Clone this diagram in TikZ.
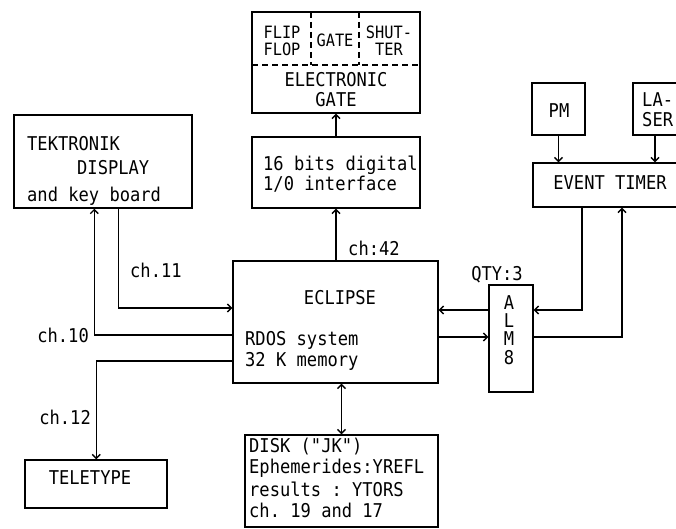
\documentclass[tikz,border=0pt]{standalone}
\usepackage{fontspec}
\setmonofont[FakeStretch=0.9]{DejaVu Sans Mono}
\usetikzlibrary{arrows.meta,calc}
\begin{document}
\begin{tikzpicture}[x=1pt,y=-1pt,
  box/.style={draw, line width=1.4pt, inner sep=0pt},
  txt/.style={font=\ttfamily\fontsize{19}{21}\selectfont, inner sep=0pt},
  stxt/.style={font=\ttfamily\fontsize{17}{19}\selectfont, inner sep=0pt},
  ln/.style={line width=1.4pt},
  arr/.style={line width=1.4pt, -{Straight Barb[length=4pt,width=8pt]}},
  darr/.style={line width=1.4pt, {Straight Barb[length=4pt,width=8pt]}-{Straight Barb[length=4pt,width=8pt]}}]
\useasboundingbox (0,0) rectangle (676,529);
\fill[white] (0,0) rectangle (676,529);

% electronic gate
\node[box, minimum width=168pt, minimum height=101pt] (gate) at (336,62.5) {};
\draw[ln, dash pattern=on 6pt off 4pt] (252,65) -- (420,65);
\draw[ln, dash pattern=on 6pt off 4pt] (311,12) -- (311,65);
\draw[ln, dash pattern=on 6pt off 4pt] (359,12) -- (359,65);
\node[stxt] (flip) at (282,32) {FLIP};
\node[stxt] (flop) at (282,49) {FLOP};
\node[stxt] (gtop) at (335,40) {GATE};
\node[stxt] (shut) at (389,32) {SHUT-};
\node[stxt] (ter) at (389,49) {TER};
\node[txt] (elec) at (336,80) {ELECTRONIC};
\node[txt] (egate) at (336,100) {GATE};

% I/O interface
\node[box, minimum width=168pt, minimum height=71pt] (io) at (336,172.5) {};
\node[txt, anchor=west] (io1) at (263,165) {16 bits digital};
\node[txt, anchor=west] (io2) at (263,184) {1/0 interface};

% Tektronik
\node[box, minimum width=178pt, minimum height=93pt] (tek) at (103,161.5) {};
\node[txt, anchor=west] (tek1) at (27,144) {TEKTRONIK};
\node[txt, anchor=west] (tek2) at (77,168) {DISPLAY};
\node[txt, anchor=west] (tek3) at (27,196) {and key board};

% Eclipse
\node[box, minimum width=205pt, minimum height=122pt] (ecl) at (335.5,322) {};
\node[txt] (ecl1) at (340,298) {ECLIPSE};
\node[txt, anchor=west] (ecl2) at (245,340) {RDOS system};
\node[txt, anchor=west] (ecl3) at (245,361) {32 K memory};

% Disk
\node[box, minimum width=193pt, minimum height=92pt] (disk) at (341.5,481) {};
\node[txt, anchor=west] (d1) at (249,447) {DISK ("JK")};
\node[txt, anchor=west] (d2) at (249,468) {Ephemerides:YREFL};
\node[txt, anchor=west] (d3) at (249,489) {results : YTORS};
\node[txt, anchor=west] (d4) at (249,510) {ch. 19 and 17};

% Teletype
\node[box, minimum width=142pt, minimum height=48pt] (tty) at (96,484) {};
\node[txt] (tty1) at (90,478) {TELETYPE};

% ALM
\node[box, minimum width=44pt, minimum height=107pt] (alm) at (511,338.5) {};
\node[txt] (a1) at (509,303) {A};
\node[txt] (a2) at (509,321) {L};
\node[txt] (a3) at (509,339) {M};
\node[txt] (a4) at (509,358) {8};
\node[txt] (qty) at (497,275) {QTY:3};

% Event timer, PM, laser
\node[box, minimum width=148pt, minimum height=44pt] (et) at (607,185) {};
\node[txt] (et1) at (610,183) {EVENT TIMER};
\node[box, minimum width=53pt, minimum height=52pt] (pm) at (558.5,109) {};
\node[txt] (pm1) at (559,111) {PM};
\node[box, minimum width=48pt, minimum height=52pt] (las) at (657,109) {};
\node[txt, anchor=west] (las1) at (642,100) {LA-};
\node[txt, anchor=west] (las2) at (642,120) {SER};

% labels
\node[txt, anchor=west] (l42) at (348,248) {ch:42};
\node[txt, anchor=west] (l11) at (130,270) {ch.11};
\node[txt, anchor=east] (l10) at (89,335) {ch.10};
\node[txt, anchor=east] (l12) at (91,417) {ch.12};

% helper coordinates
\coordinate (r1) at (0,310);
\coordinate (r2) at (0,337);
\coordinate (c1) at (582,0);
\coordinate (c2) at (622,0);
\coordinate (c3) at (655,0);

% connectors
\draw[arr] (io.north) -- (gate.south);
\draw[arr] (ecl.north -| io.south) -- (io.south);
\draw[arr] ([xshift=105pt]tek.south west) |- ([yshift=14pt]ecl.west);
\draw[arr] ([yshift=-13pt]ecl.west) -| ([xshift=81pt]tek.south west);
\draw[arr] ([yshift=-39pt]ecl.west) -| ([xshift=72pt]tty.north west);
\draw[darr] (disk.north |- ecl.south) -- (disk.north);
\draw[arr] (alm.west |- r1) -- (ecl.east |- r1);
\draw[arr] (ecl.east |- r2) -- (alm.west |- r2);
\draw[arr] (et.south -| c1) |- (alm.east |- r1);
\draw[arr] (alm.east |- r2) -| (et.south -| c2);
\draw[arr] (pm.south) -- (et.north -| pm.south);
\draw[arr] (las.south -| c3) -- (et.north -| c3);
\end{tikzpicture}
\end{document}
